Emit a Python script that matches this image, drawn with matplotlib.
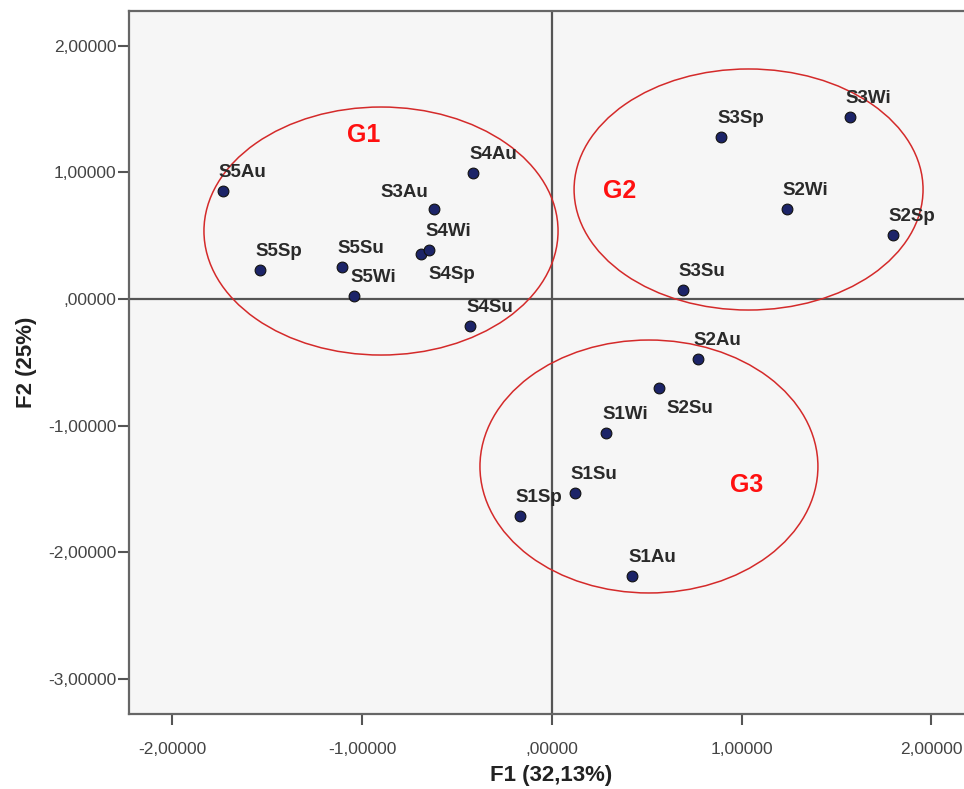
'''
PCA biplot of sites/seasons on F1 and F2 with the three groups circled.
'''

import matplotlib as mpl
mpl.use('Agg')
import matplotlib.pyplot as plt
from matplotlib.patches import Ellipse
from matplotlib.ticker import FuncFormatter

plt.rcParams['font.family'] = ['Liberation Sans', 'DejaVu Sans']

labels = ['S1Au', 'S1Sp', 'S1Su', 'S1Wi',
          'S2Au', 'S2Sp', 'S2Su', 'S2Wi',
          'S3Au', 'S3Sp', 'S3Su', 'S3Wi',
          'S4Au', 'S4Sp', 'S4Su', 'S4Wi',
          'S5Au', 'S5Sp', 'S5Su', 'S5Wi']
f1 = [0.422, -0.169, 0.121, 0.285,
      0.769, 1.797, 0.564, 1.238,
      -0.622, 0.891, 0.690, 1.570,
      -0.416, -0.690, -0.432, -0.648,
      -1.734, -1.539, -1.107, -1.043]
f2 = [-2.188, -1.714, -1.532, -1.058,
      -0.474, 0.506, -0.703, 0.711,
      0.711, 1.280, 0.071, 1.438,
      0.995, 0.355, -0.213, 0.387,
      0.853, 0.229, 0.253, 0.024]

# groups: name, centre, width, height (in F1/F2 units), label position
groups = ['G1', 'G2', 'G3']
group_centre = [(-0.901, 0.537), (1.036, 0.865), (0.511, -1.323)]
group_size = [(1.866, 1.959), (1.839, 1.904), (1.781, 1.998)]
group_text = [(-1.080, 1.240), (0.269, 0.798), (0.938, -1.524)]

xticks = [-2, -1, 0, 1, 2]
yticks = [-3, -2, -1, 0, 1, 2]

# label offsets in pixels (default is just above and right of the point)
offsets = {'S4Sp': (7, -25, 'left'), 'S2Su': (7, -25, 'left'),
           'S3Au': (-6, 12, 'right')}


def fmt(v, pos):
    s = ('%.5f' % v).replace('.', ',')
    if s.startswith('0,'):
        s = s[1:]
    if s.startswith('-0,'):
        s = s[2:]
    return s


fig = plt.figure(figsize=(9.64, 7.89), dpi=100)
ax = fig.add_axes([129/964., 1 - 714/789., 845/964., 703/789.])
ax.set_facecolor('#f6f6f6')

ax.set_xlim(-2.229, 2.224)
ax.set_ylim(-3.278, 2.275)

ax.axhline(0, color='#555555', lw=1.6, zorder=1)
ax.axvline(0, color='#555555', lw=1.6, zorder=1)

for g, c, s, t in zip(groups, group_centre, group_size, group_text):
    ax.add_patch(Ellipse(c, s[0], s[1], fill=False, ec='#d42a2a', lw=1.1, zorder=2))
    ax.text(t[0], t[1], g, color='#ff1010', fontsize=18, fontweight='bold',
            ha='left', va='baseline', zorder=4)

ax.scatter(f1, f2, s=60, c='#1c2468', edgecolors='#111111', linewidths=0.8, zorder=3)

for lab, x, y in zip(labels, f1, f2):
    dx, dy, ha = offsets.get(lab, (-4, 14, 'left'))
    ax.annotate(lab, (x, y), xytext=(dx, dy), textcoords='offset pixels',
                ha=ha, va='baseline', fontsize=13.5, fontweight='bold',
                color='#2a2a2a', zorder=4)

ax.set_xticks(xticks)
ax.set_yticks(yticks)
ax.xaxis.set_major_formatter(FuncFormatter(fmt))
ax.yaxis.set_major_formatter(FuncFormatter(fmt))
ax.tick_params(axis='both', direction='out', length=8, width=1.5,
               color='#555555', labelcolor='#444444', labelsize=12.5)
ax.tick_params(axis='x', pad=12)
ax.tick_params(axis='y', pad=1)

for side in ['left', 'bottom', 'top']:
    ax.spines[side].set_color('#666666')
    ax.spines[side].set_linewidth(1.6)
ax.spines['right'].set_visible(False)

ax.set_xlabel('F1 (32,13%)', fontsize=16, fontweight='bold', color='#222222', labelpad=6)
ax.set_ylabel('F2 (25%)', fontsize=16, fontweight='bold', color='#222222', labelpad=8)

plt.savefig('out.png', dpi=100)
